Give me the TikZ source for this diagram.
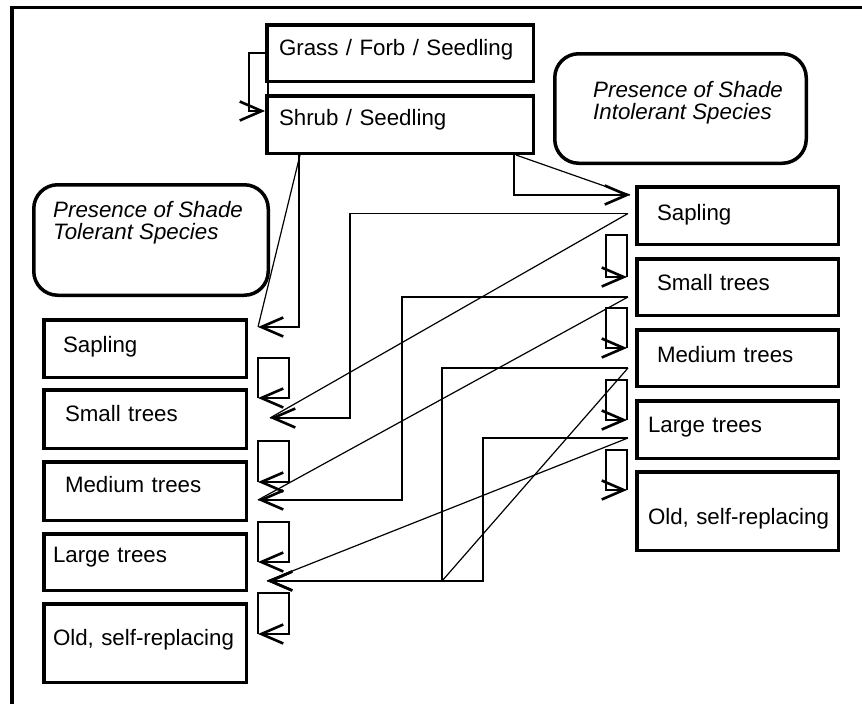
\documentclass[tikz,border=0pt]{standalone}
\usepackage{fontspec}
\setmainfont{Liberation Sans}
\usetikzlibrary{arrows.meta}
\newcommand\myfs{\fontsize{22.3}{22.5}\selectfont}
\begin{document}
\begin{tikzpicture}[x=1pt,y=-1pt,
  box/.style={draw, line width=3.5pt, anchor=north west, align=left, inner ysep=0pt,
              text height=16pt, text depth=12pt, font=\myfs},
  topbox/.style={box, minimum width=266.5pt, inner xsep=12.25pt, text width=242pt},
  lbox/.style={box, minimum width=202.5pt},
  lA/.style={lbox, inner xsep=19.25pt, text width=164pt},
  lB/.style={lbox, inner xsep=21.25pt, text width=160pt},
  lC/.style={lbox, inner xsep=9.25pt, text width=184pt},
  rbox/.style={box, minimum width=201.5pt},
  rA/.style={rbox, inner xsep=20.25pt, text width=161pt},
  rC/.style={rbox, inner xsep=11.25pt, text width=179pt},
  rnd/.style={draw, line width=3.5pt, rounded corners=24pt, anchor=north west, inner sep=0pt},
  itx/.style={anchor=north west, inner sep=0pt, align=left, font=\myfs\itshape},
  ln/.style={line width=1.2pt},
  lp/.style={line width=1.3pt},
  arr/.style={-{Straight Barb[length=22pt,width=19pt,line width=2.6pt]}},
  frame/.style={line width=3.5pt}
]
\useasboundingbox (0,0) rectangle (862,704);

% outer frame
\draw[frame] (12,704) -- (12,7.5) -- (862,7.5);

% top boxes
\node[topbox, minimum height=56.5pt, text depth=12pt] (grass) at (265,23) {Grass / Forb / Seedling};
\node[topbox, minimum height=57.5pt, text depth=15pt] (shrub) at (265,94) {Shrub / Seedling};

% rounded boxes
\node[rnd, minimum width=251.5pt, minimum height=109.5pt] (intol) at (553,52) {};
\node[itx] (intoltext) at (593,81) {Presence of Shade\\Intolerant Species};
\node[rnd, minimum width=234.5pt, minimum height=110.5pt] (tol) at (32,183) {};
\node[itx] (toltext) at (53,201) {Presence of Shade\\Tolerant Species};

% left column
\node[lA, minimum height=57.5pt, text depth=9pt] (lsap) at (42,318) {Sapling};
\node[lB, minimum height=58.5pt, text depth=12pt] (lsmall) at (42,388) {Small trees};
\node[lB, minimum height=58.5pt, text depth=14pt] (lmed) at (42,460) {Medium trees};
\node[lC, minimum height=56.5pt, text depth=16pt] (llarge) at (42,532) {Large trees};
\node[lC, minimum height=78.5pt, text depth=12pt] (lold) at (42,602) {\mbox{Old, self-replacing}};

% right column
\node[rA, minimum height=57.5pt, text depth=7pt] (rsap) at (635,185) {Sapling};
\node[rA, minimum height=56.5pt, text depth=10pt] (rsmall) at (635,257) {Small trees};
\node[rA, minimum height=56.5pt, text depth=8pt] (rmed) at (635,328) {Medium trees};
\node[rC, minimum height=57.5pt, text depth=11pt] (rlarge) at (635,399) {Large trees};
\node[rC, minimum height=78.5pt, text height=31pt, text depth=5pt] (rold) at (635,470) {\mbox{Old, self-replacing}};

% arrow tips (free ends)
\coordinate (tLsap) at (258,327);
\coordinate (tRsap) at (630,195);
\coordinate (tLsmall) at (270,418);
\coordinate (tLmed) at (258,500);
\coordinate (tLlarge) at (267,581);

% grass -> shrub
\draw[ln,arr] (grass.west) -- ++(-16,0) |- ([yshift=13.5pt]shrub.west);
\draw[ln] ([xshift=3pt]grass.south west) -- ([xshift=3pt]shrub.north west);

% shrub -> left sapling
\draw[ln] ([xshift=35pt]shrub.south west) -- (tLsap);
\draw[ln,arr] ([xshift=34pt]shrub.south west) |- (tLsap);

% shrub -> right sapling
\draw[ln] ([xshift=-19pt]shrub.south east) -- (tRsap);
\draw[ln,arr] ([xshift=-21pt]shrub.south east) |- (tRsap);

% right sapling -> left small trees
\draw[ln] ([xshift=-7pt,yshift=2pt]rsap.west) -- (tLsmall);
\draw[ln,arr] ([xshift=-7pt,yshift=2pt]rsap.west) -- ++(-278,0) |- (tLsmall);

% right small trees -> left medium trees
\draw[ln] ([xshift=-7pt,yshift=-10pt]rsmall.west) -- (tLmed);
\draw[ln,arr] ([xshift=-7pt,yshift=-10pt]rsmall.west) -- ++(-226,0) |- (tLmed);

% right medium trees -> left large trees
\draw[ln] ([xshift=-7pt,yshift=-10pt]rmed.west) -- ++(-186,213);
\draw[ln,arr] ([xshift=-7pt,yshift=-10pt]rmed.west) -- ++(-186,0) |- (tLlarge);

% right large trees -> left large trees
\draw[ln] ([xshift=-7pt,yshift=-8.5pt]rlarge.west) -- (tLlarge);
\draw[ln,arr] ([xshift=-7pt,yshift=-8.5pt]rlarge.west) -- ++(-145,0) |- (tLlarge);

% left self loops
\draw[lp,arr] (258,398) -- (258,358) -- (289,358) -- (289,398) -- (258,398);
\draw[lp,arr] (258,482) -- (258,441) -- (289,441) -- (289,482) -- (258,482);
\draw[lp,arr] (258,562) -- (258,522) -- (289,522) -- (289,562) -- (258,562);
\draw[lp,arr] (258,634) -- (258,593) -- (289,593) -- (289,634) -- (258,634);

% right self loops
\draw[lp,arr] (627,277) -- (627,235) -- (606,235) -- (606,277) -- (627,277);
\draw[lp,arr] (627,348) -- (627,308) -- (606,308) -- (606,348) -- (627,348);
\draw[lp,arr] (627,420) -- (627,380) -- (606,380) -- (606,420) -- (627,420);
\draw[lp,arr] (627,490) -- (627,450) -- (606,450) -- (606,490) -- (627,490);
\end{tikzpicture}
\end{document}
